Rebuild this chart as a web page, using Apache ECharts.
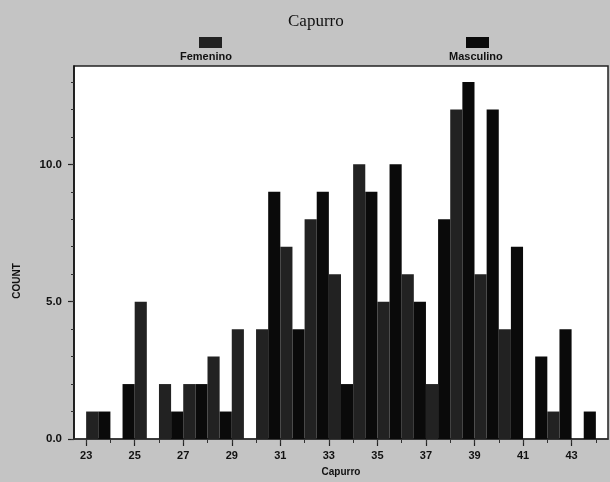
<!DOCTYPE html>
<html>
<head>
<meta charset="utf-8">
<script src="https://cdn.jsdelivr.net/npm/echarts@6/dist/echarts.min.js"></script>
<style>
html,body{margin:0;padding:0;background:#c4c4c4;}
#chart{width:610px;height:482px;}
</style>
</head>
<body>
<div id="chart"></div>
<script>
// Capurro bins (each bin holds a Femenino bar then a Masculino bar)
const capurro   = [23,24,25,26,27,28,29,30,31,32,33,34,35,36,37,38,39,40,41,42,43];
const femenino  = [1, 0, 5, 2, 2, 3, 4, 4, 7, 8, 6,10, 5, 6, 2,12, 6, 4, 0, 1, 0];
const masculino = [1, 2, 0, 1, 2, 1, 0, 9, 4, 9, 2, 9,10, 5, 8,13,12, 7, 3, 4, 1];
const xTickLabels = [23,25,27,29,31,33,35,37,39,41,43];
const xMinorTicks = [23,24,25,26,27,28,29,30,31,32,33,34,35,36,37,38,39,40,41,42,43,44];
const yTickLabels = [0,5,10];
const yMinorTicks = [0,1,2,3,4,5,6,7,8,9,10,11,12,13];

const femOffset = 0.25, mascOffset = 0.75;
const xMin = 22.5, xMax = 44.5, yMax = 13.58;
const font = 'Liberation Sans, Arial, sans-serif';

const chart = echarts.init(document.getElementById('chart'), null, {renderer:'canvas'});
chart.setOption({
  backgroundColor: '#c4c4c4',
  animation: false,
  title: {
    text: 'Capurro', left: 288, top: 13, padding: 0,
    textStyle: {fontFamily: 'Liberation Serif, Times New Roman, serif', fontSize: 17, fontWeight: 'normal', color: '#111'}
  },
  legend: [
    {data: ['Femenino'], left: 199, top: 37, padding: 0, itemWidth: 23, itemHeight: 11, icon: 'rect', selectedMode: false, formatter: () => '', itemGap: 0},
    {data: ['Masculino'], left: 466, top: 37, padding: 0, itemWidth: 23, itemHeight: 11, icon: 'rect', selectedMode: false, formatter: () => '', itemGap: 0}
  ],
  graphic: [
    {type: 'text', left: 180, top: 51, style: {text: 'Femenino', font: 'bold 11px ' + font, fill: '#111'}},
    {type: 'text', left: 449, top: 51, style: {text: 'Masculino', font: 'bold 11px ' + font, fill: '#111'}},
    {type: 'text', x: 17, y: 281, rotation: Math.PI/2, style: {text: 'COUNT', font: 'bold 10px ' + font, fill: '#111', align: 'center', verticalAlign: 'middle'}}
  ],
  grid: {left: 74, right: 2, top: 66, bottom: 40, show: true, backgroundColor: '#fff', borderColor: '#222', borderWidth: 1.5},
  xAxis: [
    {
      type: 'value', min: xMin, max: xMax, position: 'bottom',
      name: 'Capurro', nameLocation: 'middle', nameGap: 28,
      nameTextStyle: {fontFamily: font, fontSize: 10, fontWeight: 'bold', color: '#111'},
      splitLine: {show: false},
      axisLine: {show: true, onZero: false, lineStyle: {color: '#333', width: 1.5}},
      axisTick: {show: true, customValues: xTickLabels, length: 7, lineStyle: {color: '#222', width: 1.2}},
      axisLabel: {customValues: xTickLabels, margin: 11, fontFamily: font, fontSize: 11, fontWeight: 'bold', color: '#111'}
    },
    {
      type: 'value', min: xMin, max: xMax, position: 'bottom',
      splitLine: {show: false},
      axisLine: {show: false},
      axisTick: {show: true, customValues: xMinorTicks, length: 4, lineStyle: {color: '#333', width: 1}},
      axisLabel: {show: false}
    }
  ],
  yAxis: [
    {
      type: 'value', min: 0, max: yMax,
      splitLine: {show: false},
      axisLine: {show: true, lineStyle: {color: '#111', width: 1.5}},
      axisTick: {show: true, customValues: yTickLabels, length: 6, lineStyle: {color: '#222', width: 1.2}},
      axisLabel: {customValues: yTickLabels, margin: 12, fontFamily: font, fontSize: 11.5, fontWeight: 'bold', color: '#111',
        formatter: v => v.toFixed(1)}
    },
    {
      type: 'value', min: 0, max: yMax, position: 'left',
      splitLine: {show: false},
      axisLine: {show: false},
      axisTick: {show: true, customValues: yMinorTicks, length: 3, lineStyle: {color: '#333', width: 1}},
      axisLabel: {show: false}
    }
  ],
  series: [
    {
      name: 'Femenino', type: 'bar', xAxisIndex: 0, yAxisIndex: 0,
      barWidth: '100%', barGap: '-100%',
      itemStyle: {color: '#222222'},
      data: capurro.map((c, i) => [c + femOffset, femenino[i]])
    },
    {
      name: 'Masculino', type: 'bar', xAxisIndex: 0, yAxisIndex: 0,
      barWidth: '100%', barGap: '-100%',
      itemStyle: {color: '#0a0a0a'},
      data: capurro.map((c, i) => [c + mascOffset, masculino[i]])
    }
  ]
});
</script>
</body>
</html>
